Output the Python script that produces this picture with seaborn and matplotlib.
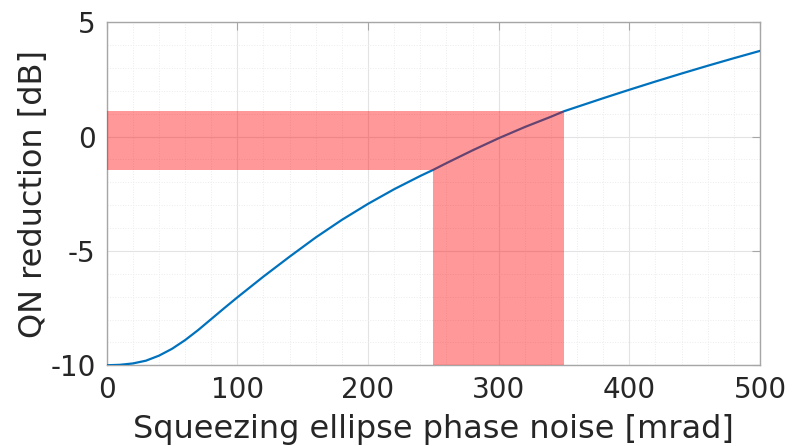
import numpy as np
import pandas as pd
import matplotlib
matplotlib.use("Agg")
import matplotlib.pyplot as plt
from matplotlib.ticker import MultipleLocator
import seaborn as sns

# Phase noise of the squeezing ellipse [mrad] and resulting quantum-noise reduction [dB]
phase_noise = [0, 10, 20, 30, 40, 50, 60, 70, 80, 90, 100, 120, 140, 160, 180,
               200, 220, 240, 250, 260, 280, 300, 320, 340, 350, 360, 380, 400,
               420, 440, 460, 480, 500]
qn_reduction = [-10.0, -9.98, -9.92, -9.80, -9.58, -9.28, -8.90, -8.46, -7.98,
                -7.50, -7.03, -6.12, -5.25, -4.41, -3.64, -2.94, -2.30, -1.72,
                -1.45, -1.16, -0.60, -0.07, 0.42, 0.87, 1.11, 1.30, 1.68, 2.05,
                2.41, 2.76, 3.10, 3.43, 3.75]

# Highlighted operating window
window_x = [250, 350]
window_y = [-1.45, 1.11]

x_ticks = [0, 100, 200, 300, 400, 500]
y_ticks = [-10, -5, 0, 5]

sns.set_theme(style="white")
plt.rcParams["font.family"] = ["DejaVu Sans"]

text_color = "#262626"
edge_color = "#a6a6a6"

fig = plt.figure(figsize=(7.92, 4.46), dpi=100)
ax = fig.add_axes([0.1347, 0.181, 0.8249, 0.769])

df = pd.DataFrame({"noise": phase_noise, "qn": qn_reduction})
sns.lineplot(data=df, x="noise", y="qn", ax=ax, color="#0072BD", linewidth=1.6,
             zorder=3, estimator=None, sort=False)

# Shaded window: horizontal band up to the right edge of the window, then down to the axis
ax.fill_between([0, window_x[1]], window_y[0], window_y[1], color="red",
                alpha=0.4, linewidth=0, zorder=4)
ax.fill_between(window_x, y_ticks[0], window_y[0], color="red",
                alpha=0.4, linewidth=0, zorder=4)

ax.set_xlim(x_ticks[0], x_ticks[-1])
ax.set_ylim(y_ticks[0], y_ticks[-1])
ax.set_xticks(x_ticks)
ax.set_yticks(y_ticks)
ax.set_yticklabels([str(v) for v in y_ticks])
ax.xaxis.set_minor_locator(MultipleLocator(20))
ax.yaxis.set_minor_locator(MultipleLocator(1))

ax.grid(True, which="major", color="#e3e3e3", linewidth=0.8, linestyle="-", zorder=0)
ax.grid(True, which="minor", color="#ececec", linewidth=0.7, linestyle=":", zorder=0)
ax.set_axisbelow(True)

for side in ax.spines.values():
    side.set_visible(True)
    side.set_color(edge_color)
    side.set_linewidth(1.0)

ax.tick_params(which="major", direction="in", length=6, width=0.8,
               color=edge_color, top=True, right=True, labelsize=20,
               labelcolor=text_color, pad=8)
ax.tick_params(which="minor", length=0)

ax.set_xlabel("Squeezing ellipse phase noise [mrad]", fontsize=23,
              color=text_color, labelpad=7)
ax.set_ylabel("QN reduction [dB]", fontsize=23, color=text_color, labelpad=1)

fig.savefig("out.png", dpi=100)
